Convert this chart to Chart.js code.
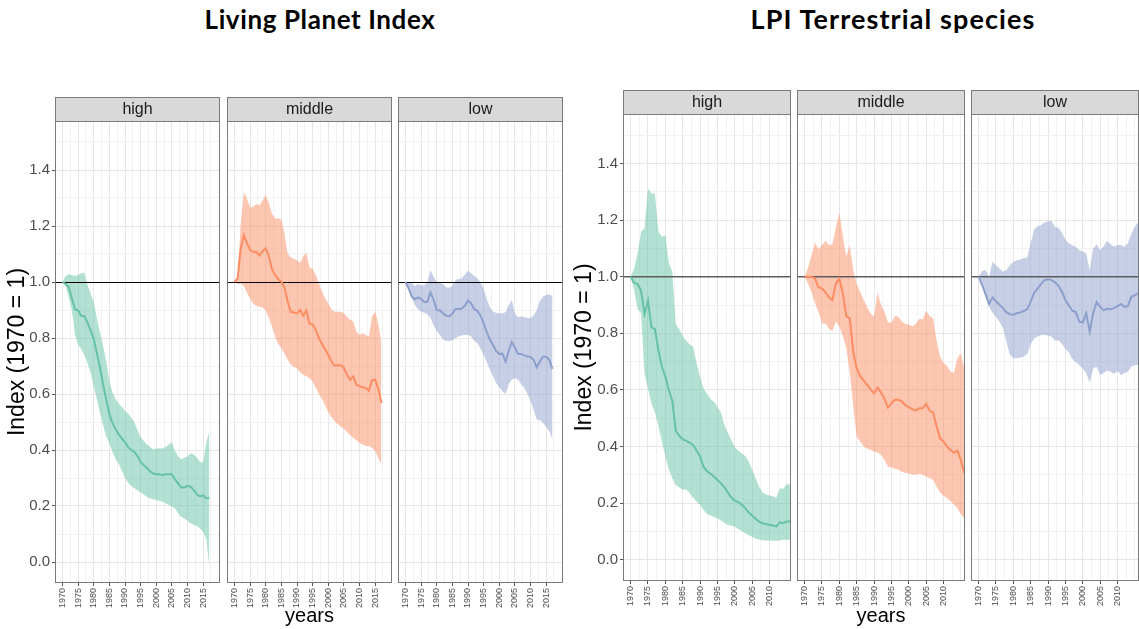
<!DOCTYPE html>
<html>
<head>
<meta charset="utf-8">
<script src="https://cdn.jsdelivr.net/npm/chart.js@4.4.0/dist/chart.umd.min.js"></script>
<style>
  body { margin: 0; background: #fff; width: 1139px; height: 629px; overflow: hidden; position: relative; }
  .title { position: absolute; top: 3px; transform: translateX(-50%); white-space: nowrap;
           font-family: Lato, "Open Sans", sans-serif; font-weight: 700; color: #000; }
  .panel { position: absolute; }
</style>
</head>
<body>
<div class="title" style="left:320px;font-size:26px;letter-spacing:0.6px">Living Planet Index</div>
<div class="title" style="left:893px;top:2px;font-size:27px;letter-spacing:1.1px">LPI Terrestrial species</div>

<script>
// facet labels
const panelLabels = ['high', 'middle', 'low'];

// Living Planet Index, 1970-2017
const lpiYears = [1970, 1971, 1972, 1973, 1974, 1975, 1976, 1977, 1978, 1979,
                  1980, 1981, 1982, 1983, 1984, 1985, 1986, 1987, 1988, 1989,
                  1990, 1991, 1992, 1993, 1994, 1995, 1996, 1997, 1998, 1999,
                  2000, 2001, 2002, 2003, 2004, 2005, 2006, 2007, 2008, 2009,
                  2010, 2011, 2012, 2013, 2014, 2015, 2016, 2017];

const lpiHighMean  = [1.000, 0.993, 0.983, 0.942, 0.903, 0.898, 0.879, 0.879, 0.855, 0.827,
                      0.796, 0.746, 0.693, 0.633, 0.580, 0.527, 0.497, 0.473, 0.456, 0.441,
                      0.428, 0.410, 0.400, 0.393, 0.378, 0.357, 0.346, 0.336, 0.324, 0.316,
                      0.313, 0.313, 0.310, 0.313, 0.313, 0.313, 0.295, 0.281, 0.266, 0.266,
                      0.272, 0.269, 0.257, 0.242, 0.234, 0.238, 0.227, 0.230];
const lpiHighUpper = [1.000, 1.021, 1.028, 1.025, 1.021, 1.025, 1.031, 1.033, 0.989, 0.960,
                      0.926, 0.871, 0.820, 0.772, 0.716, 0.645, 0.606, 0.582, 0.566, 0.554,
                      0.539, 0.530, 0.515, 0.499, 0.471, 0.446, 0.432, 0.420, 0.412, 0.402,
                      0.405, 0.405, 0.405, 0.412, 0.420, 0.428, 0.396, 0.378, 0.367, 0.372,
                      0.378, 0.388, 0.384, 0.372, 0.357, 0.355, 0.426, 0.467];
const lpiHighLower = [1.000, 0.986, 0.945, 0.900, 0.811, 0.778, 0.760, 0.740, 0.711, 0.675,
                      0.628, 0.580, 0.533, 0.488, 0.447, 0.423, 0.393, 0.367, 0.350, 0.326,
                      0.301, 0.283, 0.272, 0.263, 0.255, 0.248, 0.241, 0.232, 0.228, 0.224,
                      0.222, 0.218, 0.215, 0.210, 0.204, 0.198, 0.191, 0.174, 0.162, 0.155,
                      0.147, 0.138, 0.133, 0.129, 0.120, 0.108, 0.082, -0.020];

const lpiMiddleMean  = [1.000, 1.013, 1.120, 1.167, 1.138, 1.114, 1.108, 1.107, 1.095, 1.110,
                        1.120, 1.093, 1.045, 1.026, 1.009, 1.001, 0.981, 0.930, 0.894, 0.891,
                        0.888, 0.900, 0.879, 0.898, 0.851, 0.849, 0.829, 0.800, 0.779, 0.760,
                        0.740, 0.717, 0.701, 0.703, 0.703, 0.693, 0.669, 0.651, 0.663, 0.633,
                        0.628, 0.624, 0.622, 0.612, 0.649, 0.651, 0.618, 0.568];
const lpiMiddleUpper = [1.000, 1.019, 1.209, 1.321, 1.298, 1.265, 1.270, 1.278, 1.274, 1.292,
                        1.310, 1.282, 1.244, 1.227, 1.227, 1.223, 1.173, 1.102, 1.087, 1.083,
                        1.078, 1.069, 1.093, 1.104, 1.052, 1.047, 1.025, 0.995, 0.966, 0.942,
                        0.922, 0.903, 0.894, 0.894, 0.894, 0.888, 0.874, 0.865, 0.859, 0.823,
                        0.811, 0.817, 0.811, 0.805, 0.877, 0.894, 0.853, 0.782];
const lpiMiddleLower = [1.000, 0.993, 0.995, 0.986, 0.962, 0.940, 0.922, 0.915, 0.912, 0.909,
                        0.898, 0.871, 0.841, 0.805, 0.779, 0.764, 0.744, 0.722, 0.705, 0.696,
                        0.692, 0.677, 0.669, 0.663, 0.656, 0.645, 0.622, 0.601, 0.582, 0.559,
                        0.536, 0.518, 0.504, 0.493, 0.483, 0.476, 0.464, 0.454, 0.444, 0.435,
                        0.426, 0.420, 0.414, 0.414, 0.408, 0.396, 0.372, 0.349];

const lpiLowMean  = [1.000, 0.977, 0.948, 0.938, 0.945, 0.940, 0.928, 0.930, 0.963, 0.936,
                     0.900, 0.899, 0.888, 0.880, 0.877, 0.887, 0.904, 0.904, 0.905, 0.916,
                     0.934, 0.924, 0.903, 0.897, 0.880, 0.853, 0.821, 0.794, 0.776, 0.754,
                     0.743, 0.744, 0.716, 0.752, 0.785, 0.766, 0.743, 0.743, 0.738, 0.734,
                     0.733, 0.722, 0.695, 0.716, 0.733, 0.733, 0.722, 0.690];
const lpiLowUpper = [1.000, 1.001, 0.995, 0.986, 0.993, 0.988, 0.988, 0.999, 1.043, 1.019,
                     1.001, 0.999, 0.993, 0.980, 0.980, 0.986, 1.007, 1.011, 1.013, 1.027,
                     1.040, 1.031, 1.021, 1.013, 0.999, 0.977, 0.938, 0.911, 0.894, 0.890,
                     0.888, 0.888, 0.892, 0.916, 0.936, 0.888, 0.875, 0.877, 0.875, 0.871,
                     0.871, 0.880, 0.900, 0.932, 0.948, 0.954, 0.956, 0.950];
const lpiLowLower = [1.000, 0.975, 0.942, 0.918, 0.903, 0.894, 0.890, 0.885, 0.871, 0.845,
                     0.826, 0.811, 0.795, 0.790, 0.788, 0.792, 0.800, 0.805, 0.810, 0.811,
                     0.811, 0.805, 0.790, 0.782, 0.762, 0.740, 0.714, 0.687, 0.663, 0.639,
                     0.624, 0.610, 0.600, 0.636, 0.651, 0.657, 0.651, 0.636, 0.622, 0.600,
                     0.576, 0.544, 0.509, 0.507, 0.497, 0.482, 0.467, 0.438];

// LPI terrestrial species, 1970-2016
const terrYears = [1970, 1971, 1972, 1973, 1974, 1975, 1976, 1977, 1978, 1979,
                   1980, 1981, 1982, 1983, 1984, 1985, 1986, 1987, 1988, 1989,
                   1990, 1991, 1992, 1993, 1994, 1995, 1996, 1997, 1998, 1999,
                   2000, 2001, 2002, 2003, 2004, 2005, 2006, 2007, 2008, 2009,
                   2010, 2011, 2012, 2013, 2014, 2015, 2016];

const terrHighMean  = [1.000, 0.979, 0.974, 0.951, 0.868, 0.915, 0.821, 0.815, 0.741, 0.682,
                       0.647, 0.600, 0.562, 0.456, 0.438, 0.426, 0.420, 0.414, 0.406, 0.386,
                       0.365, 0.329, 0.313, 0.304, 0.294, 0.282, 0.271, 0.256, 0.238, 0.220,
                       0.209, 0.204, 0.195, 0.182, 0.168, 0.156, 0.145, 0.135, 0.129, 0.126,
                       0.124, 0.121, 0.118, 0.132, 0.129, 0.135, 0.135];
const terrHighUpper = [1.000, 1.029, 1.080, 1.159, 1.171, 1.312, 1.294, 1.294, 1.159, 1.141,
                       1.147, 1.049, 1.018, 0.833, 0.815, 0.791, 0.774, 0.761, 0.753, 0.694,
                       0.647, 0.606, 0.586, 0.568, 0.559, 0.541, 0.520, 0.476, 0.449, 0.424,
                       0.398, 0.386, 0.376, 0.367, 0.347, 0.318, 0.288, 0.259, 0.238, 0.231,
                       0.227, 0.224, 0.219, 0.253, 0.251, 0.268, 0.264];
const terrHighLower = [1.000, 0.953, 0.885, 0.871, 0.659, 0.606, 0.551, 0.520, 0.473, 0.418,
                       0.365, 0.320, 0.288, 0.264, 0.255, 0.248, 0.248, 0.236, 0.219, 0.206,
                       0.194, 0.176, 0.162, 0.156, 0.151, 0.146, 0.139, 0.131, 0.124, 0.120,
                       0.118, 0.109, 0.102, 0.094, 0.087, 0.081, 0.074, 0.072, 0.069, 0.068,
                       0.068, 0.067, 0.067, 0.068, 0.071, 0.071, 0.071];

const terrMiddleMean  = [1.000, 1.000, 1.000, 0.994, 0.962, 0.959, 0.945, 0.927, 0.918, 0.976,
                         0.993, 0.941, 0.861, 0.853, 0.735, 0.676, 0.649, 0.633, 0.618, 0.602,
                         0.588, 0.609, 0.591, 0.569, 0.538, 0.553, 0.565, 0.565, 0.560, 0.547,
                         0.539, 0.532, 0.527, 0.535, 0.535, 0.551, 0.527, 0.520, 0.473, 0.429,
                         0.418, 0.400, 0.388, 0.379, 0.386, 0.353, 0.306];
const terrMiddleUpper = [1.000, 1.033, 1.076, 1.120, 1.096, 1.112, 1.127, 1.112, 1.115, 1.176,
                         1.226, 1.147, 1.071, 1.112, 1.024, 0.974, 0.947, 0.918, 0.892, 0.871,
                         0.859, 0.944, 0.900, 0.876, 0.838, 0.838, 0.861, 0.859, 0.841, 0.833,
                         0.831, 0.824, 0.833, 0.852, 0.849, 0.880, 0.861, 0.853, 0.776, 0.718,
                         0.696, 0.685, 0.665, 0.659, 0.712, 0.729, 0.676];
const terrMiddleLower = [1.000, 0.976, 0.944, 0.906, 0.875, 0.835, 0.835, 0.816, 0.809, 0.841,
                         0.824, 0.791, 0.747, 0.662, 0.541, 0.435, 0.418, 0.400, 0.393, 0.388,
                         0.382, 0.379, 0.371, 0.353, 0.329, 0.327, 0.322, 0.318, 0.311, 0.307,
                         0.305, 0.301, 0.300, 0.304, 0.300, 0.294, 0.289, 0.282, 0.259, 0.238,
                         0.226, 0.218, 0.208, 0.194, 0.182, 0.162, 0.147];

const terrLowMean  = [1.000, 0.971, 0.938, 0.904, 0.927, 0.913, 0.901, 0.889, 0.875, 0.867,
                      0.866, 0.871, 0.874, 0.879, 0.885, 0.912, 0.944, 0.958, 0.975, 0.988,
                      0.991, 0.988, 0.980, 0.969, 0.947, 0.918, 0.898, 0.880, 0.875, 0.841,
                      0.838, 0.871, 0.806, 0.871, 0.911, 0.894, 0.882, 0.887, 0.885, 0.889,
                      0.896, 0.904, 0.894, 0.896, 0.929, 0.935, 0.941];
const terrLowUpper = [1.000, 1.020, 1.024, 1.000, 1.053, 1.041, 1.029, 1.018, 1.024, 1.041,
                      1.052, 1.058, 1.061, 1.065, 1.068, 1.118, 1.168, 1.178, 1.182, 1.192,
                      1.196, 1.198, 1.176, 1.173, 1.155, 1.132, 1.118, 1.111, 1.106, 1.094,
                      1.089, 1.082, 1.024, 1.100, 1.115, 1.094, 1.108, 1.127, 1.115, 1.106,
                      1.112, 1.112, 1.106, 1.118, 1.153, 1.176, 1.194];
const terrLowLower = [1.000, 0.973, 0.929, 0.894, 0.873, 0.859, 0.841, 0.820, 0.771, 0.724,
                      0.712, 0.712, 0.714, 0.718, 0.727, 0.762, 0.782, 0.789, 0.794, 0.794,
                      0.792, 0.788, 0.774, 0.776, 0.762, 0.746, 0.732, 0.709, 0.698, 0.688,
                      0.676, 0.659, 0.626, 0.676, 0.682, 0.653, 0.659, 0.669, 0.665, 0.656,
                      0.668, 0.653, 0.659, 0.665, 0.682, 0.688, 0.688];

// axis breaks
const yTicks      = [0, 0.2, 0.4, 0.6, 0.8, 1.0, 1.2, 1.4];
const yMinorTicks = [0.1, 0.3, 0.5, 0.7, 0.9, 1.1, 1.3, 1.5];
const lpiXTicks   = [1970, 1975, 1980, 1985, 1990, 1995, 2000, 2005, 2010, 2015];
const lpiXMinor   = [1972.5, 1977.5, 1982.5, 1987.5, 1992.5, 1997.5, 2002.5, 2007.5, 2012.5, 2017.5];
const terrXTicks  = [1970, 1975, 1980, 1985, 1990, 1995, 2000, 2005, 2010];
const terrXMinor  = [1972.5, 1977.5, 1982.5, 1987.5, 1992.5, 1997.5, 2002.5, 2007.5, 2012.5, 2015];
const refLevel = 1;

const lineColors = ['#66c2a5', '#fc8d62', '#8da0cb'];
const ribbonColors = ['rgba(102,194,165,0.5)', 'rgba(252,141,98,0.5)', 'rgba(141,160,203,0.5)'];

Chart.defaults.font.family = '"Liberation Sans", Arial, sans-serif';

const figures = [
  {
    top: 97, lefts: [55, 227, 398], panelW: 165, plotH: 462, titlePad: 4,
    xMin: 1967.6, xMax: 2020.4, xMajor: lpiXTicks, xMinor: lpiXMinor, years: lpiYears,
    series: [[lpiHighMean, lpiHighLower, lpiHighUpper],
             [lpiMiddleMean, lpiMiddleLower, lpiMiddleUpper],
             [lpiLowMean, lpiLowLower, lpiLowUpper]],
    refColor: '#000', refWidth: 1
  },
  {
    top: 90, lefts: [623, 797, 971], panelW: 168, plotH: 467, titlePad: 3,
    xMin: 1967.8, xMax: 2016.2, xMajor: terrXTicks, xMinor: terrXMinor, years: terrYears,
    series: [[terrHighMean, terrHighLower, terrHighUpper],
             [terrMiddleMean, terrMiddleLower, terrMiddleUpper],
             [terrLowMean, terrLowLower, terrLowUpper]],
    refColor: '#5c5c5c', refWidth: 1.6
  }
];

const STRIP_H = 24;
const AXIS_W = 55;

// strip, panel border and the 1970 = 1 reference line
const facetPlugin = {
  id: 'facet',
  beforeDatasetDraw(chart, args, opts) {
    if (args.index !== 0) return;
    const { ctx, chartArea: a } = chart;
    let y = chart.scales.y.getPixelForValue(refLevel);
    if (opts.refWidth === 1) y = Math.round(y) + 0.5;
    ctx.save();
    ctx.strokeStyle = opts.refColor;
    ctx.lineWidth = opts.refWidth;
    ctx.beginPath();
    ctx.moveTo(a.left, y);
    ctx.lineTo(a.right, y);
    ctx.stroke();
    ctx.restore();
  },
  afterDraw(chart, args, opts) {
    const { ctx, chartArea: a } = chart;
    ctx.save();
    ctx.strokeStyle = '#7a7a7a';
    ctx.lineWidth = 1;
    ctx.strokeRect(a.left + 0.5, a.top + 0.5, a.width - 1, a.height - 1);
    ctx.fillStyle = '#d9d9d9';
    ctx.fillRect(a.left + 0.5, 0.5, a.width - 1, a.top - 0.5);
    ctx.strokeRect(a.left + 0.5, 0.5, a.width - 1, a.top);
    ctx.fillStyle = '#1a1a1a';
    ctx.font = '16px "Liberation Sans", Arial, sans-serif';
    ctx.textAlign = 'center';
    ctx.textBaseline = 'middle';
    ctx.fillText(opts.label, (a.left + a.right) / 2, a.top / 2 + 1);
    ctx.restore();
  }
};

function points(xs, ys) {
  return xs.map((x, i) => ({ x: x, y: ys[i] }));
}

function makePanel(fig, idx) {
  const first = idx === 0;
  const axisW = first ? AXIS_W : 0;
  const w = fig.panelW + axisW + 1;
  const h = 629 - fig.top;
  const xH = h - STRIP_H - fig.plotH;
  const [mean, lower, upper] = fig.series[idx];
  const xMajorSet = new Set(fig.xMajor);
  const yMajorSet = new Set(yTicks);
  const xAll = fig.xMajor.concat(fig.xMinor).sort((a, b) => a - b);
  const yAll = yTicks.concat(yMinorTicks).sort((a, b) => a - b);

  const div = document.createElement('div');
  div.className = 'panel';
  div.style.left = (fig.lefts[idx] - axisW) + 'px';
  div.style.top = fig.top + 'px';
  const canvas = document.createElement('canvas');
  canvas.width = w;
  canvas.height = h;
  div.appendChild(canvas);
  document.body.appendChild(div);

  new Chart(canvas, {
    type: 'line',
    data: {
      datasets: [
        { data: points(fig.years, mean), borderColor: lineColors[idx], borderWidth: 2,
          pointRadius: 0, fill: false, tension: 0 },
        { data: points(fig.years, upper), borderColor: 'transparent', borderWidth: 0,
          backgroundColor: ribbonColors[idx], pointRadius: 0, fill: '+1' },
        { data: points(fig.years, lower), borderColor: 'transparent', borderWidth: 0,
          pointRadius: 0, fill: false }
      ]
    },
    options: {
      responsive: false,
      animation: false,
      events: [],
      layout: { padding: { top: STRIP_H, right: 1, left: 0, bottom: 0 } },
      plugins: {
        legend: { display: false },
        tooltip: { enabled: false },
        facet: { label: panelLabels[idx], refColor: fig.refColor, refWidth: fig.refWidth }
      },
      scales: {
        x: {
          type: 'linear', min: fig.xMin, max: fig.xMax, bounds: 'data',
          afterBuildTicks: s => { s.ticks = xAll.map(v => ({ value: v })); },
          afterFit: s => { s.height = xH; s.paddingLeft = 0; s.paddingRight = 0; },
          ticks: {
            autoSkip: false, minRotation: 90, maxRotation: 90, padding: 2,
            color: '#4d4d4d', font: { size: 9 },
            callback: v => xMajorSet.has(v) ? String(v) : ''
          },
          grid: {
            color: c => xMajorSet.has(c.tick.value) ? '#e6e6e6' : '#f1f1f1',
            lineWidth: 1, tickLength: 3,
            tickColor: c => xMajorSet.has(c.tick.value) ? '#555' : 'rgba(0,0,0,0)'
          },
          border: { display: false },
          title: { display: idx === 1, text: 'years', color: '#000',
                   font: { size: 20 }, padding: { top: 0, bottom: 1 } }
        },
        y: {
          type: 'linear', min: -0.075, max: 1.575, bounds: 'data',
          afterBuildTicks: s => { s.ticks = yAll.map(v => ({ value: v })); },
          afterFit: s => { s.width = axisW; s.paddingTop = 0; s.paddingBottom = 0; },
          ticks: {
            display: first, autoSkip: false, padding: 2,
            color: '#4d4d4d', font: { size: 15 },
            callback: v => yMajorSet.has(v) ? v.toFixed(1) : ''
          },
          grid: {
            color: c => yMajorSet.has(c.tick.value) ? '#e6e6e6' : '#f1f1f1',
            lineWidth: 1, drawTicks: first, tickLength: 3,
            tickColor: c => yMajorSet.has(c.tick.value) ? '#555' : 'rgba(0,0,0,0)'
          },
          border: { display: false },
          title: { display: first, text: 'Index (1970 = 1)', color: '#000',
                   font: { size: 23 }, padding: { top: fig.titlePad } }
        }
      }
    },
    plugins: [facetPlugin]
  });
}

figures.forEach(fig => {
  panelLabels.forEach((label, idx) => makePanel(fig, idx));
});
</script>
</body>
</html>
